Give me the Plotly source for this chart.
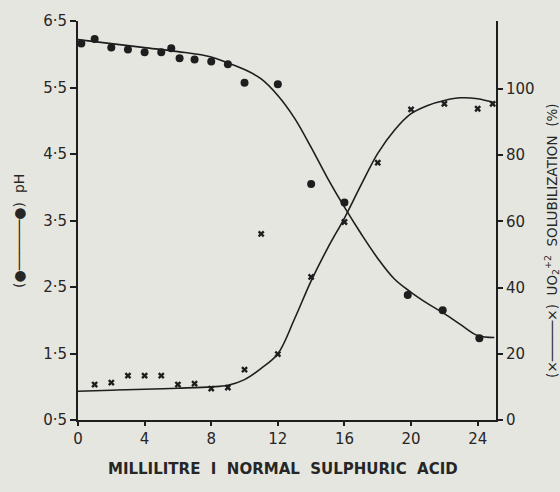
import plotly.graph_objects as go

# pH measurements (filled circles)
ph_x = [0.2, 1, 2, 3, 4, 5, 5.6, 6.1, 7, 8, 9, 10, 12, 14, 16, 19.8, 21.9, 24.1]
ph_y = [6.16, 6.23, 6.10, 6.07, 6.03, 6.03, 6.09, 5.94, 5.92, 5.89, 5.85, 5.57, 5.55, 4.05, 3.77, 2.38, 2.15, 1.73]

# pH smooth curve
ph_curve_x = [0, 2, 4, 6, 8, 9, 10, 11, 12, 13, 14, 15, 16, 17, 18, 19, 20, 21, 22, 23, 24, 25]
ph_curve_y = [6.22, 6.16, 6.10, 6.04, 5.96, 5.87, 5.77, 5.63, 5.38, 5.04, 4.60, 4.13, 3.70, 3.30,
              2.93, 2.62, 2.42, 2.25, 2.10, 1.93, 1.77, 1.74]

# UO2 solubilization measurements (crosses)
sol_x = [1, 2, 3, 4, 5, 6, 7, 8, 9, 10, 11, 12, 14, 16, 18, 20, 22, 24, 24.9]
sol_y = [10.7, 11.3, 13.4, 13.4, 13.4, 10.7, 11.0, 9.5, 9.8, 15.2, 56.2, 19.9, 43.2, 59.8, 77.7, 93.8, 95.5, 94.0, 95.5]

# solubilization smooth curve
sol_curve_x = [0, 2, 4, 6, 8, 9, 10, 11, 12, 13, 14, 15, 16, 17, 18, 19, 20, 21, 22, 23, 24, 25]
sol_curve_y = [8.7, 9.0, 9.3, 9.6, 10.0, 10.5, 12.2, 15.6, 20.0, 30.5, 42.0, 52.0, 61.0, 71.0,
               80.5, 87.5, 92.5, 95.0, 96.5, 97.3, 97.0, 95.8]

x_ticks = [0, 4, 8, 12, 16, 20, 24]
ph_ticks = [0.5, 1.5, 2.5, 3.5, 4.5, 5.5, 6.5]
ph_tick_text = ["0·5", "1·5", "2·5", "3·5", "4·5", "5·5", "6·5"]
sol_ticks = [0, 20, 40, 60, 80, 100]

ink = "#1e1e1e"
paper = "#e6e6e0"
tick_font = dict(family="DejaVu Sans", size=15, color="#262626")

fig = go.Figure()
fig.add_trace(go.Scatter(x=ph_curve_x, y=ph_curve_y, mode="lines",
                         line=dict(color=ink, width=1.6, shape="spline", smoothing=1.0),
                         hoverinfo="skip"))
fig.add_trace(go.Scatter(x=ph_x, y=ph_y, mode="markers",
                         marker=dict(color=ink, size=8, symbol="circle")))
fig.add_trace(go.Scatter(x=sol_curve_x, y=sol_curve_y, mode="lines", yaxis="y2",
                         line=dict(color=ink, width=1.6, shape="spline", smoothing=1.0),
                         hoverinfo="skip"))
fig.add_trace(go.Scatter(x=sol_x, y=sol_y, mode="markers", yaxis="y2",
                         marker=dict(color=ink, size=6, symbol="x", line=dict(width=0))))

fig.update_layout(
    width=560, height=492,
    margin=dict(l=78, r=64, t=15, b=72),
    paper_bgcolor=paper, plot_bgcolor=paper,
    showlegend=False,
    xaxis=dict(range=[0, 25.1], tickvals=x_ticks, ticks="outside", ticklen=4, tickwidth=2,
               tickcolor=ink, showline=True, linecolor=ink, linewidth=2, showgrid=False,
               zeroline=False, tickfont=tick_font),
    yaxis=dict(range=[0.5, 6.5], tickvals=ph_ticks, ticktext=ph_tick_text, ticks="outside",
               ticklen=6, tickwidth=2, tickcolor=ink, showline=True, linecolor=ink, linewidth=2,
               showgrid=False, zeroline=False, tickfont=tick_font),
    yaxis2=dict(range=[0, 120.5], tickvals=sol_ticks, ticks="outside", ticklen=5, tickwidth=2,
                tickcolor=ink, showline=True, linecolor=ink, linewidth=2, showgrid=False,
                zeroline=False, overlaying="y", side="right", tickfont=tick_font),
    annotations=[
        dict(text="MILLILITRE  I  NORMAL  SULPHURIC  ACID", xref="paper", yref="paper",
             x=0.49, y=-0.124, xanchor="center", yanchor="middle", showarrow=False,
             font=dict(family="DejaVu Sans", size=15, color="#262626", weight="bold")),
        dict(text="(●──────●)  pH", xref="paper", yref="paper", x=-0.141, y=0.474,
             textangle=-90, xanchor="center", yanchor="middle", showarrow=False,
             font=dict(family="DejaVu Sans", size=14, color="#262626")),
        dict(text="(×─────×)  UO<sub>2</sub><sup>+2</sup>  SOLUBILIZATION  (%)", xref="paper",
             yref="paper", x=1.135, y=0.45, textangle=-90, xanchor="center", yanchor="middle",
             showarrow=False, font=dict(family="DejaVu Sans", size=13.5, color="#262626")),
    ],
)

fig.write_html("out.html")
